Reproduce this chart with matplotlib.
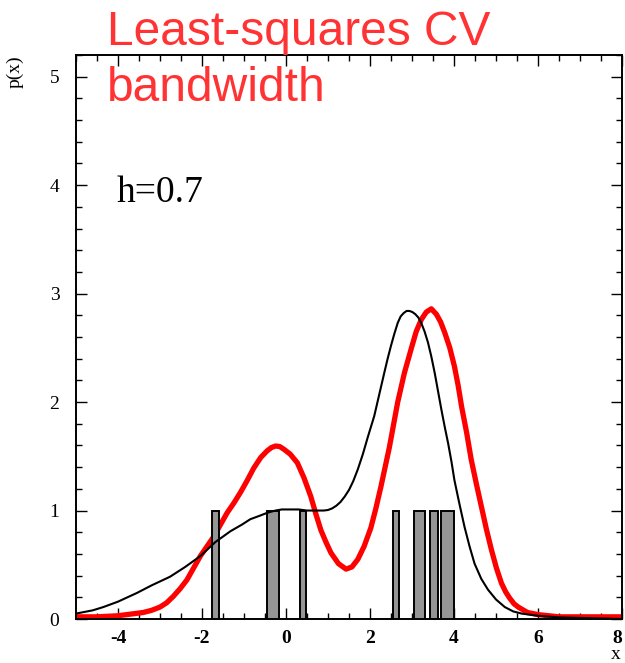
import matplotlib
matplotlib.use("Agg")
import matplotlib.pyplot as plt
from matplotlib.ticker import MultipleLocator
from matplotlib.transforms import ScaledTranslation

# ---- data ----
bar_left = [-1.77, -0.45, 0.33, 2.54, 3.04, 3.43, 3.68]
bar_right = [-1.60, -0.17, 0.47, 2.70, 3.32, 3.62, 4.00]
bar_height = [1, 1, 1, 1, 1, 1, 1]

black_x = [-5.0, -4.6, -4.35, -4.0, -3.55, -3.2, -2.76, -2.4, -2.04, -1.68, -1.32,
           -1.05, -0.85, -0.64, -0.44, -0.25, -0.1, 0.1, 0.3, 0.5, 0.7, 0.9, 1.0, 1.1,
           1.2, 1.3, 1.4, 1.5, 1.6, 1.71, 1.83, 1.95, 2.10, 2.22, 2.34, 2.42, 2.50, 2.58,
           2.66, 2.73, 2.80, 2.87, 2.94, 3.01, 3.08, 3.15, 3.22, 3.30, 3.38, 3.46, 3.54,
           3.62, 3.70, 3.78, 3.86, 3.94, 4.01, 4.13, 4.25, 4.37, 4.49, 4.65, 4.81, 5.0,
           5.21, 5.41, 5.61, 6.0, 6.5, 7.0, 8.0]
black_y = [0.05, 0.08, 0.11, 0.16, 0.24, 0.31, 0.39, 0.48, 0.58, 0.71, 0.81,
           0.87, 0.92, 0.95, 0.98, 1.0, 1.01, 1.01, 1.01, 1.0, 1.0, 1.0, 1.005, 1.02,
           1.045, 1.08, 1.13, 1.19, 1.27, 1.38, 1.52, 1.68, 1.87, 2.07, 2.27, 2.40, 2.52, 2.63,
           2.73, 2.79, 2.82, 2.84, 2.84, 2.83, 2.81, 2.78, 2.73, 2.65, 2.55, 2.42, 2.27,
           2.10, 1.93, 1.77, 1.62, 1.45, 1.28, 1.06, 0.85, 0.67, 0.51, 0.37, 0.27, 0.18,
           0.11, 0.07, 0.05, 0.03, 0.015, 0.01, 0.0]

red_x = [-5.0, -4.5, -4.0, -3.6, -3.4, -3.2, -3.0, -2.84, -2.68, -2.52, -2.36, -2.2,
         -2.04, -1.88, -1.72, -1.56, -1.40, -1.24, -1.08, -0.92, -0.77, -0.6, -0.45,
         -0.35, -0.25, -0.15, -0.05, 0.1, 0.27, 0.43, 0.59, 0.71, 0.83, 0.95, 1.07, 1.25,
         1.43, 1.57, 1.71, 1.86, 2.02, 2.14, 2.26, 2.36, 2.46, 2.56, 2.66, 2.82, 2.98,
         3.10, 3.22, 3.34, 3.46, 3.58, 3.68, 3.78, 3.90, 4.01, 4.10, 4.18, 4.30, 4.41,
         4.53, 4.65, 4.77, 4.89, 5.01, 5.13, 5.23, 5.33, 5.43, 5.53, 5.75, 6.01, 6.5,
         7.0, 8.0]
red_y = [0.02, 0.02, 0.03, 0.05, 0.06, 0.08, 0.11, 0.15, 0.21, 0.28, 0.36, 0.47,
         0.58, 0.67, 0.76, 0.87, 0.98, 1.07, 1.17, 1.28, 1.39, 1.49, 1.55,
         1.58, 1.595, 1.59, 1.565, 1.52, 1.44, 1.30, 1.13, 0.97, 0.82, 0.71, 0.61, 0.51,
         0.46, 0.48, 0.55, 0.67, 0.84, 1.02, 1.22, 1.40, 1.58, 1.79, 2.00, 2.27, 2.49,
         2.65, 2.76, 2.83, 2.86, 2.81, 2.74, 2.64, 2.50, 2.33, 2.15, 1.96, 1.72, 1.47,
         1.25, 1.04, 0.83, 0.64, 0.47, 0.33, 0.25, 0.19, 0.14, 0.11, 0.06, 0.04, 0.02,
         0.02, 0.02]

x_ticks = [-4, -2, 0, 2, 4, 6, 8]
x_tick_labels = ["-4", "-2", "0", "2", "4", "6", "8"]
y_ticks = [0, 1, 2, 3, 4, 5]
y_tick_labels = ["0", "1", "2", "3", "4", "5"]

fig = plt.figure(figsize=(6.25, 6.63), dpi=100)
ax = fig.add_axes([76 / 625, 44 / 663, (622 - 76) / 625, (619 - 55) / 663])

widths = [r - l for l, r in zip(bar_left, bar_right)]
ax.bar(bar_left, bar_height, width=widths, align="edge", facecolor="#959595",
       edgecolor="black", linewidth=1.4, zorder=3)
ax.plot(red_x, red_y, color="#ff0000", lw=3.8, zorder=2, solid_capstyle="butt",
        solid_joinstyle="round")
ax.plot(black_x, black_y, color="black", lw=1.5, zorder=4)

ax.set_xlim(-5, 8)
ax.set_ylim(0, 5.2)
ax.set_xticks(x_ticks)
ax.set_xticklabels(x_tick_labels, family="Liberation Serif", fontweight="bold", fontsize=14)
ax.set_yticks(y_ticks)
ax.set_yticklabels(y_tick_labels, family="Liberation Serif", fontsize=14)
ax.xaxis.set_minor_locator(MultipleLocator(0.5))
ax.yaxis.set_minor_locator(MultipleLocator(0.2))
ax.tick_params(which="both", direction="in", top=True, right=True, width=1.0)
ax.tick_params(which="major", length=8)
ax.tick_params(which="minor", length=4.5)
ax.tick_params(axis="x", pad=8)
ax.tick_params(axis="y", pad=12)
for s in ax.spines.values():
    s.set_linewidth(1.4)

# nudge the last x tick label so it stays inside the canvas
last = ax.get_xticklabels()[-1]
last.set_transform(last.get_transform() + ScaledTranslation(-5 / 100, 0, fig.dpi_scale_trans))

fig.text(15 / 625, 1 - 55 / 663, "p(x)", rotation=90, ha="center", va="top",
         family="Liberation Serif", fontsize=14)
fig.text(616 / 625, 1 - 659 / 663, "x", ha="center", va="baseline",
         family="Liberation Serif", fontsize=14)

fig.text(107 / 625, 1 - 45 / 663, "Least-squares CV", color="#ff3333",
         family="Liberation Sans", fontsize=34.5, va="baseline", ha="left")
fig.text(107 / 625, 1 - 101 / 663, "bandwidth", color="#ff3333",
         family="Liberation Sans", fontsize=34.5, va="baseline", ha="left")
fig.text(117 / 625, 1 - 202 / 663, "h=0.7", color="black",
         family="Liberation Serif", fontsize=27, va="baseline", ha="left")

fig.savefig("out.png", dpi=100)
